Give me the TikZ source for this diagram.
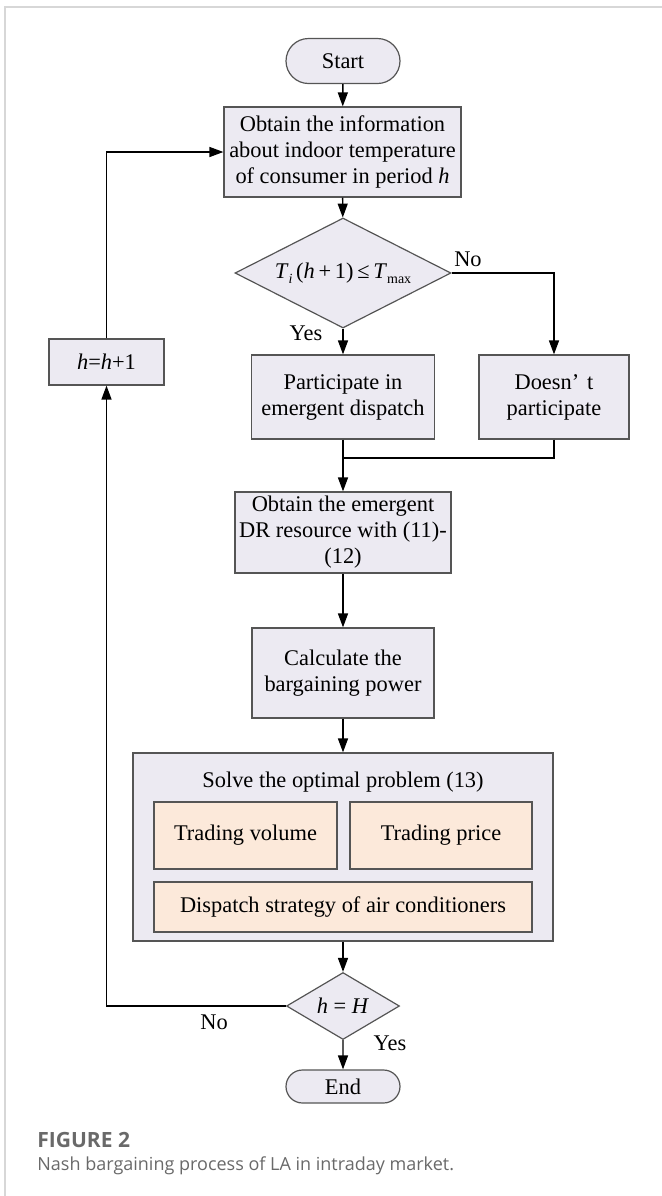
\documentclass[tikz,border=0pt]{standalone}
\usepackage{fontspec}
\setmainfont{Liberation Serif}
\newfontfamily\capfont{Open Sans}
\usetikzlibrary{arrows.meta,shapes.geometric,shapes.misc}
\definecolor{boxfill}{RGB}{236,234,242}
\definecolor{subfill}{RGB}{252,233,218}
\definecolor{edgegray}{RGB}{85,85,85}
\definecolor{framegray}{RGB}{215,215,215}
\definecolor{capgray}{RGB}{105,105,105}

\begin{document}
\begin{tikzpicture}[x=0.5pt, y=-0.5pt,
  font=\fontsize{11.2}{13}\selectfont,
  box/.style={draw=edgegray, fill=boxfill, line width=0.6pt, align=center, inner sep=0pt},
  sub/.style={box, fill=subfill},
  term/.style={box, rounded rectangle},
  test/.style={box, diamond},
  arr/.style={line width=0.7pt, -{Triangle[length=7pt,width=5pt]}},
  link/.style={line width=0.7pt},
  lbl/.style={inner sep=1pt}]
  \useasboundingbox (0,0) rectangle (662,1196);
  \draw[framegray, line width=1pt] (5,1196) -- (5,6.5) -- (662,6.5);

  % Start and input
  \node[term, minimum width=57pt, minimum height=22.5pt] (start) at (343,61) {Start};
  \node[box, minimum width=118.5pt, minimum height=45pt] (info) at (342.5,152)
    {Obtain the information\\about indoor temperature\\of consumer in period \textit{h}};
  \node[test, minimum width=108pt, minimum height=55pt, aspect=1.96] (check) at (343,273)
    {\textit{T}\raisebox{-2.5pt}{\fontsize{7}{8}\selectfont\textit{i}}\,(\textit{h}\,+\,1)\,≤\,\textit{T}\raisebox{-2.5pt}{\fontsize{7}{8}\selectfont max}};
  \draw[arr] (start) -- (info);
  \draw[arr] (info) -- (check);

  % Participation
  \node[box, minimum width=91.5pt, minimum height=42pt] (part) at (343,397)
    {Participate in\\emergent dispatch};
  \node[box, minimum width=75pt, minimum height=42pt] (skip) at (554,397)
    {Doesn’\hspace{0.35em}t\\participate};
  \coordinate (merge) at (343,458);
  \draw[arr] (check) -- (part) node[lbl, pos=0.2, left=9pt] {Yes};
  \draw[arr] (check.east) -| (skip.north) node[lbl, pos=0.08, above=2pt] {No};
  \draw[link] (skip.south) |- (merge);

  % Resource and bargaining power
  \node[box, minimum width=108pt, minimum height=40.5pt] (dr) at (343,532.5)
    {Obtain the emergent\\DR resource with (11)-\\(12)};
  \node[box, minimum width=91pt, minimum height=45pt] (calc) at (343,673)
    {Calculate the\\bargaining power};
  \draw[arr] (part) -- (dr);
  \draw[arr] (dr) -- (calc);

  % Optimal problem
  \node[box, minimum width=210pt, minimum height=94pt] (solve) at (343,847) {};
  \node (solvetitle) at (343,782) {Solve the optimal problem (13)};
  \node[sub, minimum width=91.5pt, minimum height=33.5pt] (volume) at (245.5,835.5) {Trading volume};
  \node[sub, minimum width=91pt, minimum height=33.5pt] (price) at (441,835.5) {Trading price};
  \node[sub, minimum width=189pt, minimum height=25pt] (strategy) at (343,907)
    {Dispatch strategy of air conditioners};
  \draw[arr] (calc) -- (solve);

  % Loop over periods
  \node[test, minimum width=56.5pt, minimum height=33.5pt, aspect=1.69] (last) at (343,1006)
    {\textit{h} = \textit{H}};
  \node[term, minimum width=57pt, minimum height=16.5pt] (end) at (343,1086.5) {End};
  \node[box, minimum width=57.5pt, minimum height=23pt] (incr) at (106.5,362)
    {\textit{h}=\textit{h}+1};
  \draw[arr] (solve) -- (last);
  \draw[arr] (last) -- (end) node[lbl, pos=0.1, right=14pt] {Yes};
  \draw[arr] (last.west) -| (incr.south) node[lbl, pos=0.2, below=3pt] {No};
  \draw[arr] (incr.north) |- (info.west);

  % Caption
  \node[inner sep=0pt, anchor=base west, text=capgray, font=\capfont\fontsize{10.5}{12}\selectfont\bfseries]
    (figno) at (37,1147) {FIGURE 2};
  \node[inner sep=0pt, anchor=base west, text=capgray, font=\capfont\fontsize{9}{11}\selectfont]
    (caption) at (37,1170) {Nash bargaining process of LA in intraday market.};
\end{tikzpicture}
\end{document}
